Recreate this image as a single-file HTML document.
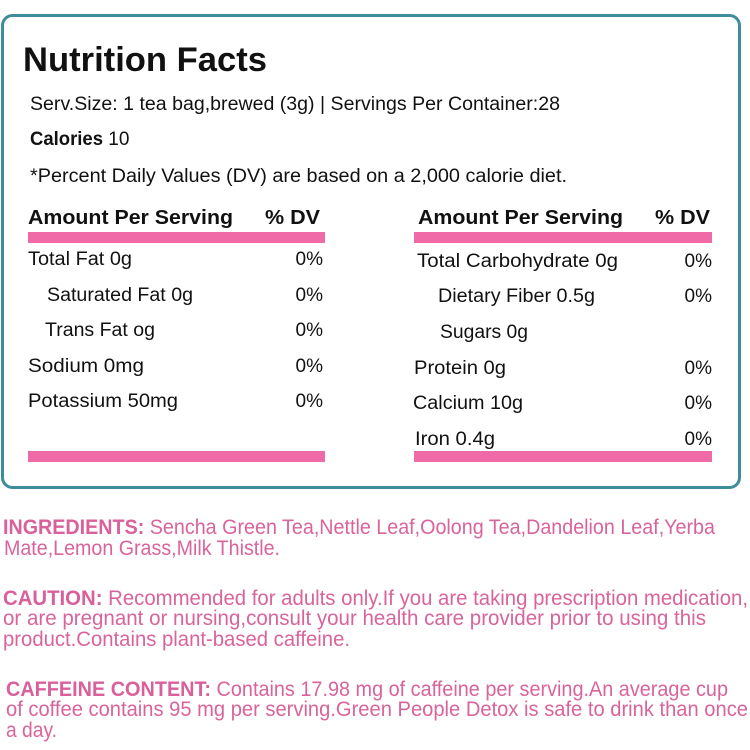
<!DOCTYPE html>
<html><head><meta charset="utf-8"><style>
html,body{margin:0;padding:0;background:#fff;}
svg{display:block;}
text{font-family:"Liberation Sans",sans-serif;}
.b{fill:#111;font-size:19px;}
.h{fill:#111;font-size:20px;font-weight:bold;}
.p{fill:#d9649c;font-size:21px;}
.pb{fill:#d9609a;font-size:21px;font-weight:bold;}
</style></head><body>
<svg width="750" height="750" viewBox="0 0 750 750" xmlns="http://www.w3.org/2000/svg">
<rect x="2.5" y="15.5" width="737" height="472" rx="10" ry="10" fill="#fff" stroke="#3f8c9c" stroke-width="3"/>
<text x="23" y="71" font-size="34" font-weight="bold" fill="#111" textLength="244" lengthAdjust="spacingAndGlyphs">Nutrition Facts</text>
<text class="b" x="30" y="110" textLength="530" lengthAdjust="spacingAndGlyphs">Serv.Size: 1 tea bag,brewed (3g) | Servings Per Container:28</text>
<text class="b" x="30" y="145"><tspan font-weight="bold" textLength="73" lengthAdjust="spacingAndGlyphs">Calories</tspan> 10</text>
<text class="b" x="30" y="182" textLength="537" lengthAdjust="spacingAndGlyphs">*Percent Daily Values (DV) are based on a 2,000 calorie diet.</text>

<text class="h" x="28" y="224" textLength="205" lengthAdjust="spacingAndGlyphs">Amount Per Serving</text>
<text class="h" x="265" y="224" textLength="55" lengthAdjust="spacingAndGlyphs">% DV</text>
<rect x="28" y="232" width="297" height="11" fill="#ef6aa6"/>
<text class="h" x="418" y="224" textLength="205" lengthAdjust="spacingAndGlyphs">Amount Per Serving</text>
<text class="h" x="655" y="224" textLength="55" lengthAdjust="spacingAndGlyphs">% DV</text>
<rect x="414" y="232" width="298" height="11" fill="#ef6aa6"/>

<text class="b" x="28" y="265" textLength="104" lengthAdjust="spacingAndGlyphs">Total Fat 0g</text>
<text class="b" x="47" y="301" textLength="146" lengthAdjust="spacingAndGlyphs">Saturated Fat 0g</text>
<text class="b" x="45" y="336" textLength="110" lengthAdjust="spacingAndGlyphs">Trans Fat og</text>
<text class="b" x="28" y="372" textLength="116" lengthAdjust="spacingAndGlyphs">Sodium 0mg</text>
<text class="b" x="28" y="407" textLength="150" lengthAdjust="spacingAndGlyphs">Potassium 50mg</text>
<text class="b" x="323" y="265" text-anchor="end">0%</text>
<text class="b" x="323" y="301" text-anchor="end">0%</text>
<text class="b" x="323" y="336" text-anchor="end">0%</text>
<text class="b" x="323" y="372" text-anchor="end">0%</text>
<text class="b" x="323" y="407" text-anchor="end">0%</text>

<text class="b" x="417" y="267" textLength="201" lengthAdjust="spacingAndGlyphs">Total Carbohydrate 0g</text>
<text class="b" x="438" y="302" textLength="157" lengthAdjust="spacingAndGlyphs">Dietary Fiber 0.5g</text>
<text class="b" x="440" y="338" textLength="88" lengthAdjust="spacingAndGlyphs">Sugars 0g</text>
<text class="b" x="414" y="374" textLength="92" lengthAdjust="spacingAndGlyphs">Protein 0g</text>
<text class="b" x="413" y="409" textLength="110" lengthAdjust="spacingAndGlyphs">Calcium 10g</text>
<text class="b" x="415" y="445" textLength="80" lengthAdjust="spacingAndGlyphs">Iron 0.4g</text>
<text class="b" x="712" y="267" text-anchor="end">0%</text>
<text class="b" x="712" y="302" text-anchor="end">0%</text>
<text class="b" x="712" y="374" text-anchor="end">0%</text>
<text class="b" x="712" y="409" text-anchor="end">0%</text>
<text class="b" x="712" y="445" text-anchor="end">0%</text>

<rect x="28" y="451" width="297" height="11" fill="#ef6aa6"/>
<rect x="414" y="451" width="298" height="11" fill="#ef6aa6"/>

<text class="p" x="3" y="534" textLength="712" lengthAdjust="spacingAndGlyphs"><tspan class="pb">INGREDIENTS:</tspan> Sencha Green Tea,Nettle Leaf,Oolong Tea,Dandelion Leaf,Yerba</text>
<text class="p" x="4" y="555" textLength="276" lengthAdjust="spacingAndGlyphs">Mate,Lemon Grass,Milk Thistle.</text>

<text class="p" x="3" y="605" textLength="745" lengthAdjust="spacingAndGlyphs"><tspan class="pb">CAUTION:</tspan> Recommended for adults only.If you are taking prescription medication,</text>
<text class="p" x="3" y="625" textLength="703" lengthAdjust="spacingAndGlyphs">or are pregnant or nursing,consult your health care provider prior to using this</text>
<text class="p" x="3" y="646" textLength="347" lengthAdjust="spacingAndGlyphs">product.Contains plant-based caffeine.</text>

<text class="p" x="6" y="696" textLength="722" lengthAdjust="spacingAndGlyphs"><tspan class="pb">CAFFEINE CONTENT:</tspan> Contains 17.98 mg of caffeine per serving.An average cup</text>
<text class="p" x="6" y="716" textLength="742" lengthAdjust="spacingAndGlyphs">of coffee contains 95 mg per serving.Green People Detox is safe to drink than once</text>
<text class="p" x="6" y="737" textLength="51" lengthAdjust="spacingAndGlyphs">a day.</text>
</svg>
</body></html>
